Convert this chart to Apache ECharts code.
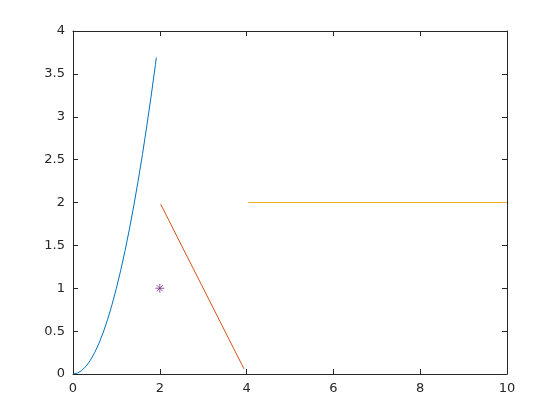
<!DOCTYPE html>
<html><head><meta charset="utf-8">
<script src="https://cdn.jsdelivr.net/npm/echarts@6/dist/echarts.min.js"></script>
<style>html,body{margin:0;padding:0;background:#fff}#c{width:560px;height:420px}</style>
</head><body><div id="c"></div>
<script>
// Data
const blueX = [0, 0.1, 0.2, 0.3, 0.4, 0.5, 0.6, 0.7, 0.8, 0.9, 1.0, 1.1, 1.2, 1.3, 1.4, 1.5, 1.6, 1.7, 1.8, 1.9, 1.92];
const blueY = [0, 0.01, 0.04, 0.09, 0.16, 0.25, 0.36, 0.49, 0.64, 0.81, 1.0, 1.21, 1.44, 1.69, 1.96, 2.25, 2.56, 2.89, 3.24, 3.61, 3.69];
const redX = [2.02, 3.94];
const redY = [1.98, 0.06];
const orangeX = [4.04, 10];
const orangeY = [2, 2];
const starX = [2];
const starY = [1];
const xTicks = [0, 2, 4, 6, 8, 10];
const yTicks = [0, 0.5, 1, 1.5, 2, 2.5, 3, 3.5, 4];

const pairs = (xs, ys) => xs.map((x, i) => [x, ys[i]]);
const axisCol = '#262626';
const font = 'DejaVu Sans';
const chart = echarts.init(document.getElementById('c'), null, {renderer: 'canvas'});
const baseX = {type: 'value', min: xTicks[0], max: xTicks[xTicks.length - 1], interval: 2,
  axisLine: {show: true, onZero: false, lineStyle: {color: axisCol, width: 1}},
  axisTick: {show: true, inside: true, length: 5, lineStyle: {color: axisCol}},
  splitLine: {show: false}};
const baseY = {type: 'value', min: yTicks[0], max: yTicks[yTicks.length - 1], interval: 0.5,
  axisLine: {show: true, onZero: false, lineStyle: {color: axisCol, width: 1}},
  axisTick: {show: true, inside: true, length: 5, lineStyle: {color: axisCol}},
  splitLine: {show: false}};
chart.setOption({
  animation: false,
  backgroundColor: '#fff',
  grid: {left: 73, right: 53, top: 31, bottom: 46, containLabel: false},
  xAxis: [
    Object.assign({}, baseX, {position: 'bottom', axisLabel: {color: axisCol, fontFamily: font, fontSize: 13, margin: 8}}),
    Object.assign({}, baseX, {position: 'top', axisLabel: {show: false}})
  ],
  yAxis: [
    Object.assign({}, baseY, {position: 'left', axisLabel: {color: axisCol, fontFamily: font, fontSize: 13, margin: 8}}),
    Object.assign({}, baseY, {position: 'right', axisLabel: {show: false}})
  ],
  series: [
    {type: 'line', data: pairs(blueX, blueY), showSymbol: false, lineStyle: {color: '#0072BD', width: 1}, itemStyle: {color: '#0072BD'}},
    {type: 'line', data: pairs(redX, redY), showSymbol: false, lineStyle: {color: '#D95319', width: 1}, itemStyle: {color: '#D95319'}},
    {type: 'line', data: pairs(orangeX, orangeY), showSymbol: false, lineStyle: {color: '#EDB120', width: 1}, itemStyle: {color: '#EDB120'}},
    {type: 'scatter', data: pairs(starX, starY), symbol: 'path://M0,-10L0,10M-10,0L10,0M-7,-7L7,7M-7,7L7,-7', symbolSize: 9,
      itemStyle: {color: 'rgba(0,0,0,0)', borderColor: '#7E2F8E', borderWidth: 1}}
  ]
});
</script></body></html>
